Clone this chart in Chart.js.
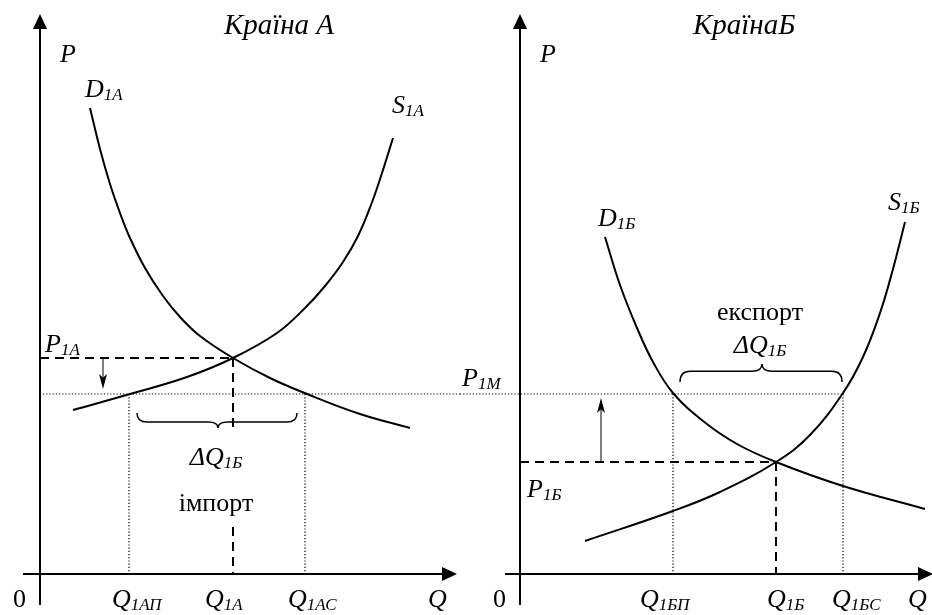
<!DOCTYPE html>
<html lang="uk">
<head>
<meta charset="utf-8">
<title>Країна А / Країна Б</title>
<script src="https://cdn.jsdelivr.net/npm/chart.js@4.4.1/dist/chart.umd.min.js"></script>
<style>
  html, body { margin: 0; padding: 0; background: #fff; }
  #wrap { position: relative; width: 932px; height: 615px; overflow: hidden; }
  #wrap canvas { position: absolute; top: 0; }
  #chartA { left: 0; }
  #chartB { left: 460px; }
</style>
</head>
<body>
<div id="wrap">
  <canvas id="chartA" width="460" height="615"></canvas>
  <canvas id="chartB" width="472" height="615"></canvas>
</div>
<script>
// ---- Data (Q, P in arbitrary units) ----

// Country A
var demandA_q = [5.0, 6.0, 7.0, 8.0, 9.0, 10.5, 12.3, 14.0, 16.0, 19.3, 23.0, 26.7, 32.0, 37.0];
var demandA_p = [46.6, 42.5, 39.0, 36.1, 33.6, 30.6, 27.8, 25.7, 23.8, 21.6, 19.6, 18.0, 16.0, 14.6];
var supplyA_q = [3.3, 9.0, 14.7, 19.3, 23.7, 26.5, 28.5, 30.3, 31.8, 33.1, 34.2, 35.3];
var supplyA_p = [16.4, 18.0, 19.7, 21.6, 24.1, 26.6, 28.8, 31.2, 33.8, 36.9, 40.1, 43.6];
var equilA = [19.3, 21.6];        // Q1A, P1A
var tradeA_q = [8.9, 26.5];       // Q1AП, Q1AC

// Country Б
var demandB_q = [8.5, 10.0, 11.7, 13.3, 15.3, 18.3, 21.7, 25.6, 32.3, 40.5];
var demandB_p = [33.7, 28.9, 24.6, 21.2, 18.1, 15.3, 13.0, 11.2, 8.8, 6.5];
var supplyB_q = [6.5, 15.3, 20.0, 25.6, 29.0, 32.3, 34.3, 36.0, 37.3, 38.5];
var supplyB_p = [3.3, 6.3, 8.2, 11.2, 13.9, 18.1, 21.7, 26.1, 30.5, 35.2];
var equilB = [25.6, 11.2];        // Q1Б, P1Б
var tradeB_q = [15.3, 32.3];      // Q1БП, Q1БC

// world price
var worldPrice = 18.0;            // P1M

// tick captions on the Q axes (subscripts)
var qTicksA = ['1АП', '1А', '1АС'];
var qTicksB = ['1БП', '1Б', '1БС'];

// ---- Layout ----
var FONT = '"Liberation Serif", "Times New Roman", serif';
var P_MIN = -4.1, P_MAX = 57.4;

var labelsA = [
    {t: 'Країна А', q: 23.9, p: 54.0, align: 'center', size: 29},
    {t: 'P', q: 2.0, p: 51.2},
    {t: 'D', s: '1А', q: 4.5, p: 47.7},
    {t: 'S', s: '1А', q: 35.2, p: 46.1},
    {t: 'P', s: '1А', q: 0.5, p: 22.2},
    {t: 'ΔQ', s: '1Б', q: 17.6, p: 10.9, align: 'center'},
    {t: 'імпорт', q: 17.6, p: 6.3, align: 'center', upright: true},
    {t: '0', q: -2.7, p: -3.3, upright: true},
    {t: 'Q', s: qTicksA[0], q: 7.2, p: -3.3},
    {t: 'Q', s: qTicksA[1], q: 16.5, p: -3.3},
    {t: 'Q', s: qTicksA[2], q: 24.8, p: -3.3},
    {t: 'Q', q: 38.8, p: -3.3}
];

var labelsB = [
    {t: 'КраїнаБ', q: 17.3, p: 54.0, size: 29},
    {t: 'P', q: 2.0, p: 51.2},
    {t: 'D', s: '1Б', q: 7.8, p: 34.8},
    {t: 'S', s: '1Б', q: 36.8, p: 36.4},
    {t: 'експорт', q: 24.0, p: 25.4, align: 'center', upright: true},
    {t: 'ΔQ', s: '1Б', q: 24.0, p: 22.1, align: 'center'},
    {t: 'P', s: '1М', q: -5.8, p: 18.8},
    {t: 'P', s: '1Б', q: 0.7, p: 7.7},
    {t: '0', q: -2.7, p: -3.3, upright: true},
    {t: 'Q', s: qTicksB[0], q: 12.0, p: -3.3},
    {t: 'Q', s: qTicksB[1], q: 24.7, p: -3.3},
    {t: 'Q', s: qTicksB[2], q: 31.2, p: -3.3},
    {t: 'Q', q: 38.8, p: -3.3}
];

// helpers to build datasets
function pts(qs, ps) {
    return qs.map(function(q, i) { return {x: q, y: ps[i]}; });
}
function curve(qs, ps) {
    return {
        data: pts(qs, ps), showLine: true, borderColor: '#000', borderWidth: 2,
        pointRadius: 0, tension: 0.4, fill: false
    };
}
function seg(a, b, kind) {
    var dashed = kind === 'dash';
    return {
        data: [{x: a[0], y: a[1]}, {x: b[0], y: b[1]}], showLine: true, borderColor: '#000',
        borderWidth: dashed ? 2 : 1.2, borderDash: dashed ? [9, 6] : [1.2, 2],
        pointRadius: 0, fill: false, tension: 0
    };
}

function arrowHead(ctx, x, y, dir, len, half) {
    ctx.beginPath();
    if (dir === 'up') {
        ctx.moveTo(x, y); ctx.lineTo(x - half, y + len); ctx.lineTo(x, y + len * 0.75); ctx.lineTo(x + half, y + len);
    } else if (dir === 'down') {
        ctx.moveTo(x, y); ctx.lineTo(x - half, y - len); ctx.lineTo(x, y - len * 0.75); ctx.lineTo(x + half, y - len);
    } else {
        ctx.moveTo(x, y); ctx.lineTo(x - len, y - half); ctx.lineTo(x - len, y + half);
    }
    ctx.closePath();
    ctx.fill();
}

// curly brace between x1..x2; ends at yEnd, tip at (xt, yTip)
function brace(ctx, x1, x2, xt, yEnd, yTip) {
    var yMid = yEnd + (yTip - yEnd) * 0.6;
    var r = 10;
    ctx.beginPath();
    ctx.moveTo(x1, yEnd);
    ctx.quadraticCurveTo(x1, yMid, x1 + r, yMid);
    ctx.lineTo(xt - r, yMid);
    ctx.quadraticCurveTo(xt, yMid, xt, yTip);
    ctx.quadraticCurveTo(xt, yMid, xt + r, yMid);
    ctx.lineTo(x2 - r, yMid);
    ctx.quadraticCurveTo(x2, yMid, x2, yEnd);
    ctx.stroke();
}

function drawLabel(ctx, sx, sy, lb) {
    var x = sx.getPixelForValue(lb.q), y = sy.getPixelForValue(lb.p);
    var mainFont = (lb.upright ? '' : 'italic ') + (lb.size || 26) + 'px ' + FONT;
    var subFont = 'italic 17px ' + FONT;
    ctx.font = mainFont;
    var w = ctx.measureText(lb.t).width;
    var ws = 0;
    if (lb.s) { ctx.font = subFont; ws = ctx.measureText(lb.s).width; }
    if (lb.align === 'center') x -= (w + ws) / 2;
    ctx.font = mainFont;
    ctx.fillText(lb.t, x, y);
    if (lb.s) { ctx.font = subFont; ctx.fillText(lb.s, x + w, y + 3); }
}

// draws axes, arrows, braces and text of one panel
function panelPlugin(cfg) {
    return {
        id: 'panel',
        afterDatasetsDraw: function(chart) {
            var ctx = chart.ctx, sx = chart.scales.x, sy = chart.scales.y;
            ctx.save();
            ctx.fillStyle = '#000';
            ctx.strokeStyle = '#000';

            // axes
            var x0 = sx.getPixelForValue(0), y0 = sy.getPixelForValue(0);
            var xa = sx.getPixelForValue(cfg.axisQ[0]), xb = sx.getPixelForValue(cfg.axisQ[1]);
            var ya = sy.getPixelForValue(cfg.axisP[0]), yb = sy.getPixelForValue(cfg.axisP[1]);
            ctx.lineWidth = 2;
            ctx.beginPath();
            ctx.moveTo(xa, y0); ctx.lineTo(xb - 12, y0);
            ctx.moveTo(x0, ya); ctx.lineTo(x0, yb + 12);
            ctx.stroke();
            arrowHead(ctx, xb, y0, 'right', 15, 7);
            ctx.beginPath();
            ctx.moveTo(x0, yb); ctx.lineTo(x0 - 7, yb + 15); ctx.lineTo(x0 + 7, yb + 15); ctx.closePath(); ctx.fill();

            // price-change arrow
            var ax = sx.getPixelForValue(cfg.arrow.q);
            var a1 = sy.getPixelForValue(cfg.arrow.from), a2 = sy.getPixelForValue(cfg.arrow.to);
            var dir = a2 < a1 ? 'up' : 'down';
            ctx.lineWidth = 1;
            ctx.beginPath();
            ctx.moveTo(ax, a1); ctx.lineTo(ax, dir === 'up' ? a2 + 8 : a2 - 8);
            ctx.stroke();
            arrowHead(ctx, ax, a2, dir, 15, 4);

            // brace
            ctx.lineWidth = 1.5;
            brace(ctx, sx.getPixelForValue(cfg.brace.q1), sx.getPixelForValue(cfg.brace.q2),
                sx.getPixelForValue(cfg.brace.qt), sy.getPixelForValue(cfg.brace.pEnd),
                sy.getPixelForValue(cfg.brace.pTip));

            // text
            ctx.textBaseline = 'alphabetic';
            cfg.labels.forEach(function(lb) { drawLabel(ctx, sx, sy, lb); });
            ctx.restore();
        }
    };
}

function makePanel(id, qMin, qMax, datasets, cfg) {
    return new Chart(document.getElementById(id), {
        type: 'scatter',
        data: {datasets: datasets},
        options: {
            responsive: false,
            animation: false,
            devicePixelRatio: 1,
            layout: {padding: 0},
            plugins: {legend: {display: false}, tooltip: {enabled: false}},
            scales: {
                x: {type: 'linear', min: qMin, max: qMax, display: false},
                y: {type: 'linear', min: P_MIN, max: P_MAX, display: false}
            }
        },
        plugins: [panelPlugin(cfg)]
    });
}

// ---- Country A ----
makePanel('chartA', -4.0, 42.0, [
    curve(demandA_q, demandA_p),
    curve(supplyA_q, supplyA_p),
    seg([0, equilA[1]], [equilA[0], equilA[1]], 'dash'),
    seg([equilA[0], equilA[1]], [equilA[0], 14.5], 'dash'),
    seg([equilA[0], 4.7], [equilA[0], 0], 'dash'),
    seg([0.3, worldPrice], [42.0, worldPrice], 'dot'),
    seg([tradeA_q[0], worldPrice], [tradeA_q[0], 0], 'dot'),
    seg([tradeA_q[1], worldPrice], [tradeA_q[1], 0], 'dot')
], {
    axisQ: [-1.7, 41.7], axisP: [-3.1, 56.0],
    arrow: {q: 6.3, from: equilA[1], to: 18.5},
    brace: {q1: 9.7, q2: 25.7, qt: 17.8, pEnd: 16.1, pTip: 14.6},
    labels: labelsA
});

// ---- Country Б ----
makePanel('chartB', -6.0, 41.2, [
    curve(demandB_q, demandB_p),
    curve(supplyB_q, supplyB_p),
    seg([0, equilB[1]], [equilB[0], equilB[1]], 'dash'),
    seg([equilB[0], equilB[1]], [equilB[0], 0], 'dash'),
    seg([-6.0, worldPrice], [tradeB_q[1], worldPrice], 'dot'),
    seg([tradeB_q[0], worldPrice], [tradeB_q[0], 0], 'dot'),
    seg([tradeB_q[1], worldPrice], [tradeB_q[1], 0], 'dot')
], {
    axisQ: [-1.5, 41.3], axisP: [-3.1, 56.0],
    arrow: {q: 8.1, from: equilB[1], to: 17.6},
    brace: {q1: 16.0, q2: 32.2, qt: 24.2, pEnd: 19.2, pTip: 21.0},
    labels: labelsB
});
</script>
</body>
</html>
